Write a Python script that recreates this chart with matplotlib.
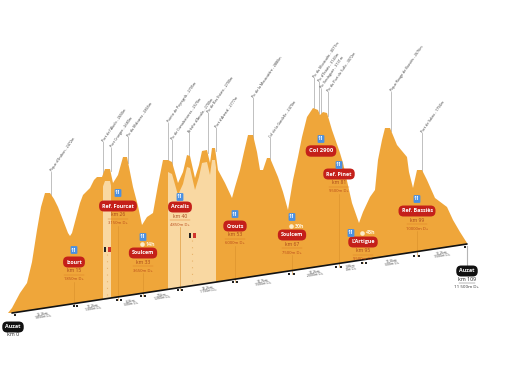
import matplotlib.pyplot as plt
from matplotlib.patches import FancyBboxPatch, Rectangle

plt.rcParams['font.family'] = ['Open Sans', 'DejaVu Sans']

# profile, in picture units
profile_x = [8, 12, 20, 27, 32, 37, 41, 45, 50, 54, 58, 63, 68, 70, 72, 76, 80, 83, 90, 94, 97, 102, 105, 110, 113, 118,
             123, 127, 133, 138, 142, 147, 153, 158, 163, 168, 172, 178, 183, 187, 190, 195, 199, 202, 207, 210, 212, 215,
             218, 225, 232, 235, 240, 244, 248, 253, 257, 260, 263, 267, 270, 278, 283, 288, 293, 298, 302, 307, 313, 318,
             320, 323, 327, 332, 340, 343, 352, 359, 363, 370, 375, 378, 382, 385, 390, 397, 407, 409, 413, 417, 422, 427,
             435, 447, 453, 460, 467]
profile_y = [313, 308, 293, 283, 262, 230, 207, 193, 193, 199, 207, 220, 233, 236, 233, 218, 203, 195, 188, 180, 177, 177,
             169, 169, 183, 175, 157, 157, 187, 206, 225, 217, 213, 185, 160, 160, 162, 183, 172, 155, 156, 178, 165, 151,
             150, 163, 148, 148, 170, 183, 198, 187, 170, 152, 135, 135, 152, 170, 170, 158, 158, 177, 192, 210, 180, 157,
             137, 117, 108, 110, 115, 112, 113, 130, 153, 163, 203, 223, 212, 197, 190, 160, 140, 128, 128, 145, 157, 172,
             188, 170, 170, 180, 198, 207, 220, 232, 243]
base_x = [467, 12]
base_y = [244, 313]

peak_names = ["Pique d'Endron - 2472m", "Port de l'Aludo - 2650m", "Port Crueger - 2680m", "Pic du Malcaras - 2865m",
              "Pointe de Peyregrils - 2705m", "Pic de Comalestorres - 2570m", "Brèche d'Arcalis - 2700m",
              "Pic de Bas Estats - 2700m", "Port d'Arinsal - 2777m", "Pic de la Mouscatère - 2880m",
              "Col de la Gardelle - 2470m", "Pic du Montcalm - 3077m", "Pic d'Estats - 3143m", "Pic Verdaguer - 3131m",
              "Pic du Port de Sullo - 3072m", "Pique Rouge de Bassiès - 2676m", "Port de Saleix - 1794m"]
peak_x = [51, 103, 111, 128, 168, 172, 189, 208, 216, 253, 270, 314, 319, 321, 328, 391, 422]
peak_top = [172, 142, 148, 137, 123, 140, 133, 113, 128, 98, 138, 78, 82, 89, 92, 92, 133]
peak_bottom = [192, 175, 168, 160, 160, 162, 155, 150, 148, 135, 158, 108, 110, 113, 113, 128, 170]

stop_names = ["Izourt", "Ref. Fourcat", "Soulcem", "Arcalis", "Crouts", "Soulcem", "Ref. Pinet", "L'Artigue", "Ref. Bassiès"]
stop_km = ["km 15", "km 26", "km 33", "km 40", "km 53", "km 67", "km 81", "km 95", "km 99"]
stop_dplus = ["1850m D+", "3150m D+", "3650m D+", "4850m D+", "6000m D+", "7500m D+", "9500m D+", "9500m D+", "10000m D+"]
stop_x = [74, 118, 143, 180, 235, 292, 339, 363, 417]
stop_y = [262, 206, 253, 207, 226, 235, 174, 242, 211]
stop_base = [306, 300, 296, 290, 282, 274, 267, 263, 256]
icon_x = [74, 118, 143, 180, 235, 292, 339, 351, 417, 321]
icon_y = [250, 193, 237, 197, 214, 217, 165, 233, 199, 139]

time_labels = ["14h", "30h", "43h"]
time_x = [146, 295, 366]
time_y = [244, 226, 233]

seg_labels = ["15,3km\n1850m D+", "11,2km\n1300m D+", "6,3km\n500m D+", "7,5km\n1200m D+", "13,2km\n1150m D+",
              "14,7km\n1500m D+", "14,2km\n2000m D+", "5,8km\n0m D+", "11,0km\n500m D+", "10,2km\n1500m D+"]
seg_x = [43, 93, 131, 162, 208, 263, 315, 351, 392, 442]
seg_y = [315, 307, 302, 296, 289, 282, 273, 267, 262, 254]

mark_x = [15, 74, 77, 117, 121, 141, 145, 178, 182, 233, 237, 289, 294, 336, 341, 362, 366, 414, 419, 465]
mark_y = [315, 306, 306, 300, 300, 296, 296, 290, 290, 282, 282, 274, 274, 267, 267, 263, 263, 256, 256, 247]

bands = [(103, 111), (168, 216)]
flag_x = [107, 192]
flag_top = [254, 240]
flag_bottom = [295, 282]

ORANGE = "#EFA63A"
LIGHT = "#F9D8A2"
RED = "#C4201A"
BLUE = "#4A90E2"
GREY = "#B5B5B5"

fig = plt.figure(figsize=(5.12, 3.79), dpi=100)
ax = fig.add_axes([0, 0, 1, 1])
ax.set_xlim(0, 512)
ax.set_ylim(379, 0)
ax.axis("off")

# peak leader lines + names
for name, x, top, bottom in zip(peak_names, peak_x, peak_top, peak_bottom):
    ax.plot([x, x], [top, bottom + 3], color=GREY, lw=0.6, zorder=1)
    ax.text(x + 0.5, top - 1, name, fontsize=2.6, rotation=55, rotation_mode="anchor",
            ha="left", va="center", color="#333333")

ax.fill(profile_x + base_x, profile_y + base_y, color=ORANGE, lw=0, zorder=2)

# lighter sections, keeps a dark ridge on top
shifted = [y + 12 for y in profile_y]
for left, right in bands:
    clip = Rectangle((left, 0), right - left, 379, transform=ax.transData)
    p = ax.fill(profile_x + base_x, shifted + base_y, color=LIGHT, lw=0, zorder=3)[0]
    p.set_clip_path(clip)

ax.plot(base_x, base_y, color="#111111", lw=1.2, zorder=5, solid_capstyle="round")
ax.scatter(mark_x, mark_y, s=3, marker="s", color="#222222", lw=0, zorder=6)

# border crossing markers
for x, top, bottom in zip(flag_x, flag_top, flag_bottom):
    ax.plot([x, x], [top, bottom], color="#E8B36A", lw=0.8, ls=(0, (1, 5)), zorder=4)
    ax.add_patch(Rectangle((x - 3.5, top - 7), 2.5, 4.5, color="#222222", lw=0, zorder=6))
    ax.add_patch(Rectangle((x + 1, top - 7), 2.5, 4.5, color="#D0342C", lw=0, zorder=6))

# stops
for name, km, dp, x, y, b in zip(stop_names, stop_km, stop_dplus, stop_x, stop_y, stop_base):
    ax.plot([x, x], [y + 20, b], color="#D98F2B", lw=0.4, zorder=4)
    ax.text(x, y, name, fontsize=3.9, color="white", ha="center", va="center", weight="bold", zorder=8,
            bbox=dict(boxstyle="round,pad=0.55,rounding_size=0.9", fc=RED, ec="none"))
    ax.text(x, y + 9, km, fontsize=3.6, color="#A8451A", ha="center", va="center", zorder=8)
    ax.plot([x - 10, x + 10], [y + 13, y + 13], color="#D9761F", lw=0.3, zorder=7)
    ax.text(x, y + 17.5, dp, fontsize=3.0, color="#B8481A", ha="center", va="center", zorder=8)

# col label
ax.text(321, 151, "Col 2900", fontsize=4.2, color="white", ha="center", va="center", weight="bold", zorder=8,
        bbox=dict(boxstyle="round,pad=0.55,rounding_size=0.9", fc=RED, ec="none"))

for x, y in zip(icon_x, icon_y):
    ax.add_patch(FancyBboxPatch((x - 2.6, y - 3.1), 5.2, 6.2, boxstyle="round,pad=0.8,rounding_size=1", fc=BLUE, ec="none", zorder=8))
    ax.text(x, y, "11", fontsize=3.6, color="white", ha="center", va="center", weight="bold", zorder=9)

for lab, x, y in zip(time_labels, time_x, time_y):
    ax.scatter([x - 4], [y], s=11, color="#FCEBC8", lw=0, zorder=8)
    ax.text(x, y, lab, fontsize=3.8, color="#FFF3DC", ha="left", va="center", weight="bold", zorder=8)

for lab, x, y in zip(seg_labels, seg_x, seg_y):
    ax.text(x, y, lab, fontsize=2.5, rotation=8.5, color="#444444", ha="center", va="center", linespacing=1.1)

# start / finish
ax.text(13, 327, "Auzat", fontsize=3.9, color="white", ha="center", va="center", weight="bold",
        bbox=dict(boxstyle="round,pad=0.55,rounding_size=0.9", fc="#111111", ec="none"))
ax.text(13, 335, "km 0", fontsize=3.8, color="#222222", ha="center", va="center")
ax.plot([467, 467], [246, 266], color=GREY, lw=0.8, zorder=1)
ax.text(467, 271, "Auzat", fontsize=3.9, color="white", ha="center", va="center", weight="bold",
        bbox=dict(boxstyle="round,pad=0.55,rounding_size=0.9", fc="#111111", ec="none"))
ax.text(467, 279.5, "km 109", fontsize=3.8, color="#222222", ha="center", va="center")
ax.plot([459, 475], [283, 283], color="#555555", lw=0.3)
ax.text(467, 287.5, "11 500m D+", fontsize=3.2, color="#333333", ha="center", va="center")

fig.savefig("out.png", dpi=100)
